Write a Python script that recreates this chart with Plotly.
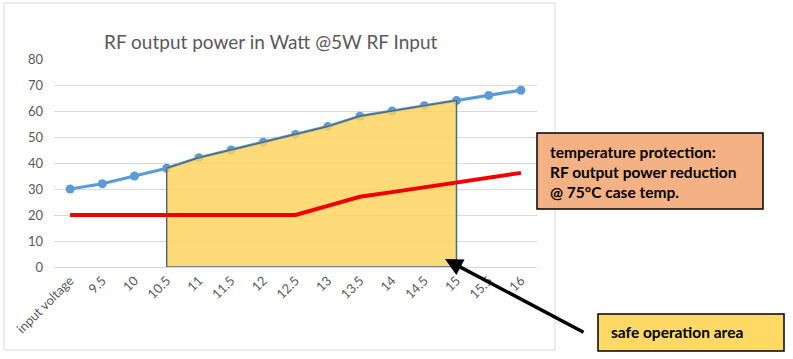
import plotly.graph_objects as go

categories = ["input voltage", "9.5", "10", "10.5", "11", "11.5", "12", "12.5",
              "13", "13.5", "14", "14.5", "15", "15.5", "16"]
rf_output = [30, 32, 35, 38, 42, 45, 48, 51, 54, 58, 60, 62, 64, 66, 68]
temp_limit = [20, 20, 20, 20, 20, 20, 20, 20, 23.5, 27, 28.8, 30.6, 32.4, 34.2, 36.2]
safe_start, safe_end = 3, 12  # indices of 10.5 and 15

FONT = "Lato, 'Open Sans', sans-serif"
GRAY = "#595959"

area_x = [categories[safe_start]] + categories[safe_start:safe_end + 1] + [categories[safe_end], categories[safe_start]]
area_y = [0] + rf_output[safe_start:safe_end + 1] + [0, 0]

fig = go.Figure()
fig.add_trace(go.Scatter(x=categories, y=rf_output, mode="lines+markers",
                         line=dict(color="#5B9BD5", width=3.2),
                         marker=dict(size=9, color="#5B9BD5"), showlegend=False))
fig.add_trace(go.Scatter(x=area_x, y=area_y, mode="lines", fill="toself",
                         fillcolor="rgba(255,210,90,0.82)",
                         line=dict(color="#4F6A80", width=1.5), showlegend=False))
fig.add_trace(go.Scatter(x=categories, y=temp_limit, mode="lines",
                         line=dict(color="#F00000", width=4), showlegend=False))

L, B, W, H = 54, 92, 483, 208
def px(x):
    return (x - L) / W
def py(y):
    return (359 - B - y) / H

shapes = [
    dict(type="rect", xref="paper", yref="paper", x0=px(4), x1=px(555), y0=py(350), y1=py(3),
         line=dict(color="#D9D9D9", width=1), fillcolor="rgba(0,0,0,0)", layer="below"),
    dict(type="rect", xref="paper", yref="paper", x0=px(537), x1=px(763), y0=py(209), y1=py(133),
         line=dict(color="black", width=1.5), fillcolor="#F4B183"),
    dict(type="rect", xref="paper", yref="paper", x0=px(598), x1=px(784), y0=py(351), y1=py(314),
         line=dict(color="black", width=1.5), fillcolor="#FFD966"),
]

annotations = [
    dict(text="RF output power in Watt @5W RF Input", xref="paper", yref="paper",
         x=px(270), y=py(28), showarrow=False, font=dict(family=FONT, size=19, color=GRAY)),
    dict(text="<b>temperature protection:<br>RF output power reduction<br>@ 75°C case temp.</b>",
         xref="paper", yref="paper", x=px(548), y=py(172), xanchor="left", yanchor="middle",
         align="left", showarrow=False, font=dict(family=FONT, size=15.5, color="black")),
    dict(text="<b>safe operation area</b>", xref="paper", yref="paper", x=px(609), y=py(332),
         xanchor="left", yanchor="middle", showarrow=False,
         font=dict(family=FONT, size=15.5, color="black")),
    dict(text="", xref="paper", yref="paper", x=px(445), y=py(259), showarrow=True,
         axref="pixel", ayref="pixel", ax=140, ay=74, arrowhead=2, arrowsize=1,
         arrowwidth=3.5, arrowcolor="black"),
]

fig.update_layout(
    width=793, height=359,
    margin=dict(l=L, r=793 - L - W, t=359 - B - H, b=B, autoexpand=False),
    paper_bgcolor="white", plot_bgcolor="white",
    font=dict(family=FONT, color=GRAY, size=13),
    shapes=shapes, annotations=annotations,
    xaxis=dict(type="category", tickangle=-45, showgrid=False, showline=True, automargin=False,
               linecolor="#D9D9D9", linewidth=1, ticks="", range=[-0.5, len(categories) - 0.5],
               tickfont=dict(size=13, color=GRAY, family=FONT)),
    yaxis=dict(range=[0, 80], dtick=10, showgrid=True, gridcolor="#D9D9D9", gridwidth=1,
               zeroline=False, showline=False, ticks="", ticklabelstandoff=10, automargin=False,
               tickfont=dict(size=13, color=GRAY, family=FONT)),
)

fig.write_html("out.html", config={"displayModeBar": False},
               post_script="document.body.style.margin='0';document.body.style.padding='0';")
